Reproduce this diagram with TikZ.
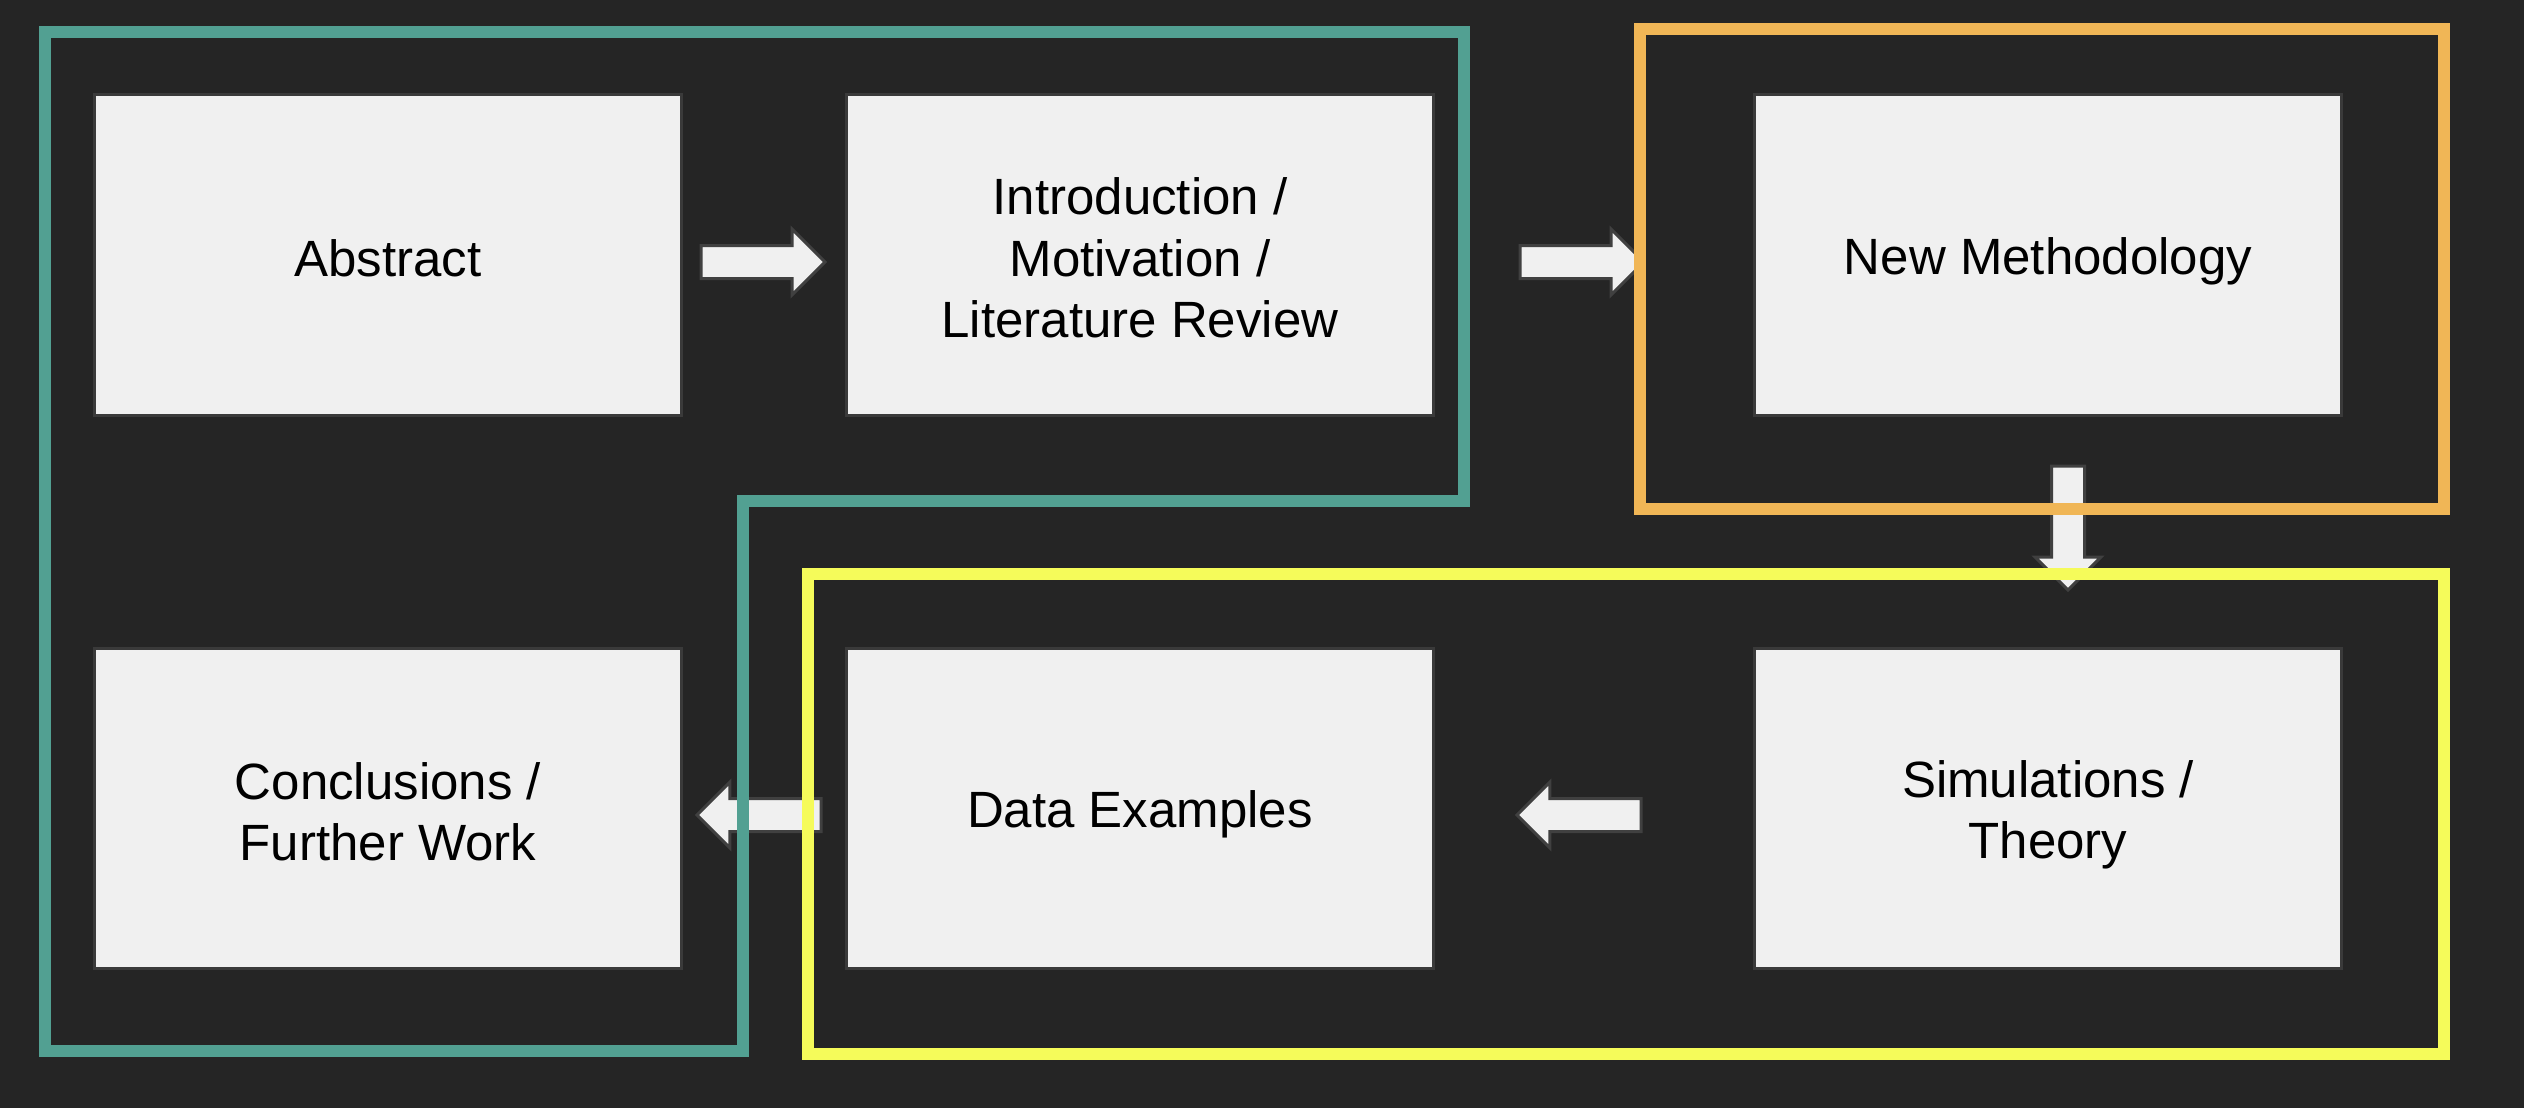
\documentclass[tikz,border=0pt]{standalone}
\usepackage{fontspec}
\setmainfont{Liberation Sans}
\usetikzlibrary{shapes.arrows}
\definecolor{bgcol}{HTML}{252525}
\definecolor{boxfill}{HTML}{F0F0F0}
\definecolor{boxline}{HTML}{3A3A3A}
\definecolor{arrline}{HTML}{404040}
\definecolor{tealframe}{HTML}{52A092}
\definecolor{orangeframe}{HTML}{F0B656}
\definecolor{yellowframe}{HTML}{F5FB5A}
\newcommand{\partstrut}{\rule[-2pt]{0pt}{16pt}}
\begin{document}
\begin{tikzpicture}[x=0.01cm, y=-0.01cm,
    part/.style={draw=boxline, fill=boxfill, line width=0.03cm,
      minimum width=5.87cm, minimum height=3.2cm, align=center,
      font=\fontsize{14.5}{17.4}\selectfont,
      execute at begin node=\partstrut, execute at end node=\partstrut},
    blockarrow/.style={shape=single arrow, draw=arrline, fill=boxfill,
      line width=0.03cm, inner sep=0pt, text height=0.3cm, text depth=0pt,
      single arrow head extend=0.165cm, minimum height=1.24cm, anchor=tail},
    frame/.style={line width=0.12cm}]
          \fill[bgcol] (0,0) rectangle (2524,1108);

          \node[part] (abstract) at (388, 255) {Abstract};
          \node[part] (intro) at (1140, 255) {\partstrut Introduction /\\Motivation /\\Literature Review\partstrut};
          \node[part] (method) at (2048, 255) {New Methodology};

          \node[part] (concl) at (388, 808.5) {\partstrut Conclusions /\\Further Work\partstrut};
          \node[part] (data) at (1140, 808.5) {Data Examples};
          \node[part] (sims) at (2048, 808.5) {\partstrut Simulations /\\Theory\partstrut};

          \node[blockarrow] (abstointro) at (699.5, 262) {};
          \node[blockarrow] (introtometh) at (1518.5, 262) {};
          \node[blockarrow, rotate=-90] (methtosims) at (2068, 464.5) {};
          \node[blockarrow, shape border rotate=180] (simstodata) at (1642.5, 815) {};
          \node[blockarrow, shape border rotate=180] (datatoconcl) at (822.5, 815) {};

          \draw[frame, tealframe] (45, 32) -- (1464, 32) -- (1464, 501) -- (743, 501)
            -- (743, 1051) -- (45, 1051) -- cycle;
          \draw[frame, orangeframe] (1640, 29) rectangle (2444, 509);
          \draw[frame, yellowframe] (808, 574) rectangle (2444, 1054);
        \end{tikzpicture}
\end{document}
